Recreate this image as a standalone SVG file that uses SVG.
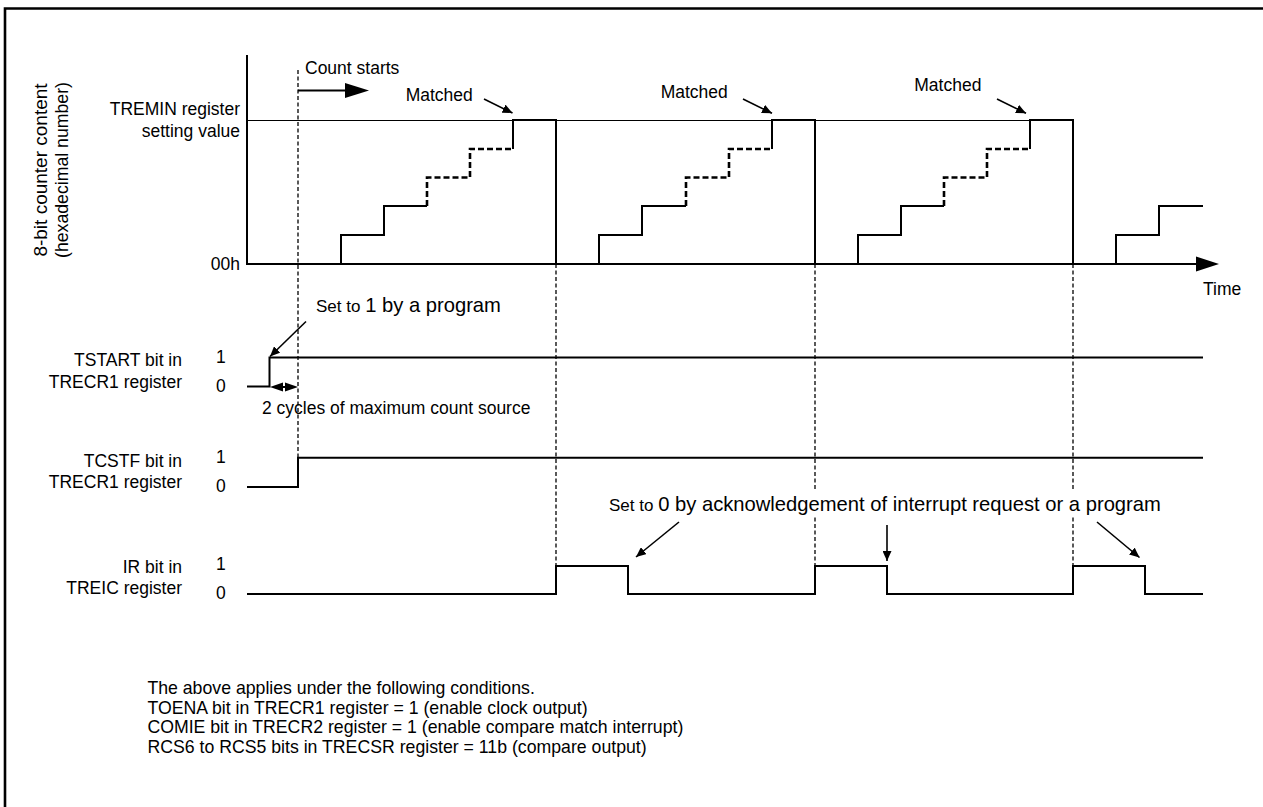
<svg xmlns="http://www.w3.org/2000/svg" width="1263" height="807" viewBox="0 0 1263 807">
<style>
text{font-family:"Liberation Sans",Arial,Helvetica,sans-serif;fill:#000}
.lb{font-size:17.5px}
.r{text-anchor:end}
.big{font-size:20.2px}
.sm{font-size:17px}
.note{font-size:17.7px}
.sig{stroke:#000;stroke-width:2;fill:none}
.thin{stroke:#000;stroke-width:1;fill:none}
.dash{stroke:#000;stroke-width:1.3;stroke-dasharray:4 2.5;fill:none}
.dstep{stroke:#000;stroke-width:2.6;stroke-dasharray:6 3;fill:none}
.arr{stroke:#000;stroke-width:1.6;fill:none}
</style>
<defs>
<marker id="ah" markerUnits="userSpaceOnUse" markerWidth="11" markerHeight="9" refX="10" refY="4.5" orient="auto">
<path d="M0,0 L10,4.5 L0,9 z" fill="#000"/>
</marker>
</defs>
<rect width="1263" height="807" fill="#fff"/>
<path d="M5,807 V8.5 H1263" stroke="#000" stroke-width="2.6" fill="none"/>

<g id="axes">
<path class="sig" d="M247,55 V264 H1198"/>
<polygon points="1196,256.5 1219,264 1196,271.5" fill="#000"/>
<line class="thin" x1="247" y1="120.5" x2="1073" y2="120.5"/>
<text class="lb r" x="240" y="115">TREMIN register</text>
<text class="lb r" x="240" y="137">setting value</text>
<text class="lb r" x="240" y="270">00h</text>
<text class="lb" x="1203" y="295">Time</text>
<text transform="translate(46.5,170) rotate(-90)" text-anchor="middle" font-size="19">8-bit counter content</text>
<text transform="translate(68,170) rotate(-90)" text-anchor="middle" font-size="17.7">(hexadecimal number)</text>
</g>

<g id="counter">
<path class="sig" d="M341,264 V235 H384 V206 H427"/>
<path class="dstep" d="M427,206 V177.5 H470 V149 H513"/>
<path class="sig" d="M513,149 V120 H556 V264"/>
<path class="sig" d="M599,264 V235 H642 V206 H686"/>
<path class="dstep" d="M686,206 V177.5 H729 V149 H772"/>
<path class="sig" d="M772,149 V120 H815 V264"/>
<path class="sig" d="M858,264 V235 H901 V206 H944"/>
<path class="dstep" d="M944,206 V177.5 H987 V149 H1030"/>
<path class="sig" d="M1030,149 V120 H1073 V264"/>
<path class="sig" d="M1116,264 V235 H1159 V206 H1203"/>
</g>

<g id="count-starts">
<text class="lb" x="305" y="74">Count starts</text>
<line class="sig" x1="298" y1="90.5" x2="346" y2="90.5"/>
<polygon points="345,83 369,90.5 345,98" fill="#000"/>
</g>

<g id="matched-labels">
<text class="lb" x="405.7" y="100.7">Matched</text>
<text class="lb" x="660.7" y="97.7">Matched</text>
<text class="lb" x="914.3" y="91">Matched</text>
</g>

<g id="tstart">
<text class="lb r" x="182" y="366">TSTART bit in</text>
<text class="lb r" x="182" y="388">TRECR1 register</text>
<text class="lb" x="216" y="363">1</text>
<text class="lb" x="216" y="392">0</text>
<path class="sig" d="M247,386.5 H269.5 V357.5 H1203"/>
<text x="316" y="312"><tspan class="sm">Set to </tspan><tspan class="big">1 by a program</tspan></text>
<text class="lb" x="262" y="414">2 cycles of maximum count source</text>
</g>

<g id="tcstf">
<text class="lb r" x="182" y="466.7">TCSTF bit in</text>
<text class="lb r" x="182" y="487.7">TRECR1 register</text>
<text class="lb" x="216" y="463">1</text>
<text class="lb" x="216" y="492">0</text>
<path class="sig" d="M247,487 H298 V457.7 H1203"/>
</g>

<g id="ir">
<text class="lb r" x="182" y="573.3">IR bit in</text>
<text class="lb r" x="182" y="594.3">TREIC register</text>
<text class="lb" x="216" y="570">1</text>
<text class="lb" x="216" y="599">0</text>
<path class="sig" d="M247,594 H556 V566 H628 V594 H815 V566 H887 V594 H1073 V566 H1145 V594 H1203"/>
</g>

<g id="connectors">
<line class="dash" x1="298" y1="70" x2="298" y2="457"/>
<line class="dash" x1="556" y1="264" x2="556" y2="566"/>
<line class="dash" x1="815" y1="264" x2="815" y2="566"/>
<line class="dash" x1="1073" y1="264" x2="1073" y2="566"/>
<line class="arr" x1="484" y1="99" x2="512.5" y2="113" marker-end="url(#ah)"/>
<line class="arr" x1="743" y1="99" x2="772" y2="113.3" marker-end="url(#ah)"/>
<line class="arr" x1="997" y1="99" x2="1026" y2="113.3" marker-end="url(#ah)"/>
<line class="arr" x1="306" y1="321.5" x2="270" y2="356.5" marker-end="url(#ah)"/>
<line class="sig" x1="280" y1="387" x2="288" y2="387"/>
<polygon points="270,387 283,382.5 283,391.5" fill="#000"/>
<polygon points="298,387 285,382.5 285,391.5" fill="#000"/>
<line class="arr" x1="679" y1="522" x2="636" y2="557" marker-end="url(#ah)"/>
<line class="arr" x1="887" y1="525" x2="887" y2="561" marker-end="url(#ah)"/>
<line class="arr" x1="1097" y1="522" x2="1139.5" y2="557.5" marker-end="url(#ah)"/>
</g>

<g id="clear-label">
<rect x="604" y="489" width="565" height="28" fill="#fff"/>
<text x="609" y="511"><tspan class="sm">Set to </tspan><tspan class="big">0 by acknowledgement of interrupt request or a program</tspan></text>
</g>

<g id="conditions">
<text class="note" x="147.4" y="694">The above applies under the following conditions.</text>
<text class="note" x="147.4" y="713.5">TOENA bit in TRECR1 register = 1 (enable clock output)</text>
<text class="note" x="147.4" y="733">COMIE bit in TRECR2 register = 1 (enable compare match interrupt)</text>
<text class="note" x="147.4" y="752.5">RCS6 to RCS5 bits in TRECSR register = 11b (compare output)</text>
</g>
</svg>
